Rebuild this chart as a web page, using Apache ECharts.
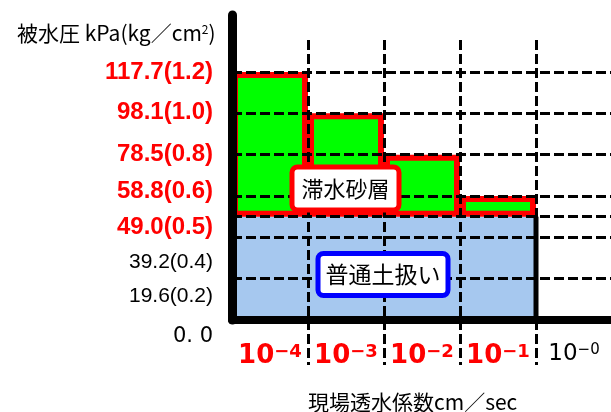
<!DOCTYPE html>
<html><head><meta charset="utf-8">
<script src="https://cdn.jsdelivr.net/npm/echarts@6/dist/echarts.min.js"></script>
<style>html,body{margin:0;padding:0;background:#fff}#c{width:611px;height:412px}</style>
</head><body><div id="c"></div>
<script>
// ---- data ----
const categories = ['10^-4', '10^-3', '10^-2', '10^-1', '10^-0'];
const expLabels = ['−4', '−3', '−2', '−1', '−0'];
const redCategory = [true, true, true, true, false];
const baseTop = [0.5, 0.5, 0.5, 0.5, null];      // 普通土扱い upper limit (kg/cm2)
const aquiferTop = [1.2, 1.0, 0.8, 0.6, null];   // 滞水砂層 upper limit (kg/cm2)
const yTickValues = [0, 0.2, 0.4, 0.5, 0.6, 0.8, 1.0, 1.2];
const yTickLabels = ['0. 0', '19.6(0.2)', '39.2(0.4)', '49.0(0.5)', '58.8(0.6)', '78.5(0.8)', '98.1(1.0)', '117.7(1.2)'];
const yTickRed = [false, false, false, true, true, true, true, true];

// ---- styles ----
const labelShift = [17, 18, 25, 11, -5, 0, -1, 0];
const LAT = 'Liberation Sans';
const DJV = 'DejaVu Sans';
const CJK = '"Noto Sans CJK JP"';
const dash = { color: '#000', width: 3, type: [10, 4] };

const yRich = {};
yTickValues.forEach(function (v, i) {
  const s = labelShift[i];
  const red = yTickRed[i];
  yRich['l' + i] = {
    color: red ? '#ff0000' : '#000',
    fontWeight: red ? 'bold' : 'normal',
    fontSize: red ? 24 : 21,
    fontFamily: i === 0 ? DJV : LAT,
    padding: s >= 0 ? [2 * s, 0, 0, 0] : [0, 0, -2 * s, 0]
  };
});

const greenData = aquiferTop.map(function (t, i) {
  return (t == null || baseTop[i] == null) ? '-' : +(t - baseTop[i]).toFixed(4);
});
const blueData = baseTop.map(function (v) { return v == null ? '-' : v; });
let lastBase = 0;
baseTop.forEach(function (v, i) { if (v != null) lastBase = i; });

const chart = echarts.init(document.getElementById('c'));
chart.setOption({
  animation: false,
  backgroundColor: '#fff',
  title: [
    {
      text: '被水圧 kPa(kg／cm{s|2})', left: 12, top: 18,
      textStyle: { fontSize: 21, fontWeight: 'normal', color: '#000', fontFamily: CJK,
        rich: { s: { fontSize: 12, color: '#000', fontFamily: CJK, verticalAlign: 'top' } } }
    },
    {
      text: '現場透水係数cm／sec', left: 303, top: 387,
      textStyle: { fontSize: 21, fontWeight: 'normal', color: '#000', fontFamily: CJK }
    }
  ],
  grid: [
    { left: 232, right: -1, top: 40, bottom: 92, outerBoundsMode: 'none', containLabel: false },
    { left: 232, width: 1, top: 15, bottom: 92, outerBoundsMode: 'none', containLabel: false }
  ],
  xAxis: [
    {
      type: 'category', gridIndex: 0, data: categories, boundaryGap: true, z: 5,
      axisLine: { show: true, lineStyle: { color: '#000', width: 8, cap: 'round' } },
      axisTick: { show: true, length: 45, interval: function (i) { return i !== 0; }, lineStyle: dash },
      splitLine: { show: true, interval: function (i) { return i !== 0; }, lineStyle: dash },
      axisLabel: {
        interval: 0, margin: 23,
        formatter: function (v, i) {
          const r = redCategory[i];
          return '{' + (r ? 'rb' : 'kb') + '|10}{' + (r ? 'rs' : 'ks') + '|' + expLabels[i] + '}';
        },
        rich: {
          rb: { fontSize: 26, fontWeight: 'bold', color: '#ff0000', fontFamily: DJV },
          rs: { fontSize: 18, fontWeight: 'bold', color: '#ff0000', fontFamily: DJV, verticalAlign: 'top' },
          kb: { fontSize: 23, fontWeight: 'normal', color: '#000', fontFamily: DJV },
          ks: { fontSize: 15, fontWeight: 'normal', color: '#000', fontFamily: DJV, verticalAlign: 'top' }
        }
      }
    },
    { type: 'value', gridIndex: 1, show: false, min: 0, max: 1 }
  ],
  yAxis: [
    {
      type: 'value', gridIndex: 0, min: 0, max: 1.355, z: 5,
      axisLine: { show: false },
      axisTick: { show: false, customValues: yTickValues },
      splitLine: { show: true, lineStyle: dash },
      axisLabel: {
        customValues: yTickValues, margin: 19, hideOverlap: false,
        formatter: function (v) {
          let k = 0;
          yTickValues.forEach(function (t, i) { if (Math.abs(t - v) < 1e-6) k = i; });
          return '{l' + k + '|' + yTickLabels[k] + '}';
        },
        rich: yRich
      }
    },
    {
      type: 'value', gridIndex: 1, min: 0, max: 1, z: 6,
      axisLine: { show: true, lineStyle: { color: '#000', width: 9, cap: 'round' } },
      axisTick: { show: false }, axisLabel: { show: false }, splitLine: { show: false }
    }
  ],
  series: [
    {
      name: '普通土扱い', type: 'bar', xAxisIndex: 0, yAxisIndex: 0, stack: 'soil',
      barWidth: '100%', data: blueData, z: 1,
      itemStyle: { color: '#a6c8ef' }
    },
    {
      name: 'edge', type: 'custom', xAxisIndex: 0, yAxisIndex: 0, z: 2,
      data: [[lastBase, baseTop[lastBase]]],
      encode: { x: 0, y: 1 },
      renderItem: function (params, api) {
        const top = api.coord([api.value(0), api.value(1)]);
        const bot = api.coord([api.value(0), 0]);
        const w = api.size([1, 0])[0];
        const x = top[0] + w / 2;
        return { type: 'line', shape: { x1: x, y1: top[1], x2: x, y2: bot[1] },
          style: { stroke: '#000', lineWidth: 5 } };
      }
    },
    {
      name: '滞水砂層', type: 'bar', xAxisIndex: 0, yAxisIndex: 0, stack: 'soil',
      barWidth: '100%', data: greenData, z: 3,
      itemStyle: { color: '#00ff00', borderColor: '#ff0000', borderWidth: 6 }
    }
  ],
  graphic: [
    {
      type: 'text', x: 345.5, y: 188.5, z: 100,
      style: { text: '滞水砂層', font: '22px "Noto Sans CJK JP"', fill: '#000',
        align: 'center', verticalAlign: 'middle', backgroundColor: '#fff',
        borderColor: '#ff0000', borderWidth: 5, borderRadius: 3, padding: [8, 7] }
    },
    {
      type: 'text', x: 383, y: 274.5, z: 100,
      style: { text: '普通土扱い', font: '23px "Noto Sans CJK JP"', fill: '#000',
        align: 'center', verticalAlign: 'middle', backgroundColor: '#fff',
        borderColor: '#0000ff', borderWidth: 5, borderRadius: 3, padding: [7, 5] }
    }
  ]
});
</script></body></html>
